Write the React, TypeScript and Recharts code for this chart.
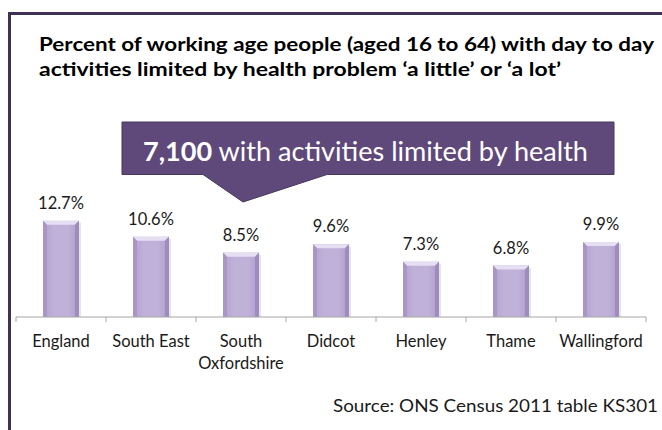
import React from 'react';
import { BarChart, Bar, XAxis, YAxis, LabelList } from 'recharts';

const areas = ['England', 'South East', 'South Oxfordshire', 'Didcot', 'Henley', 'Thame', 'Wallingford'];
const percentLimited = [12.7, 10.6, 8.5, 9.6, 7.3, 6.8, 9.9];

const titleLines = [
  'Percent of working age people (aged 16 to 64) with day to day',
  'activities limited by health problem \u2018a little\u2019 or \u2018a lot\u2019',
];
const calloutNumber = '7,100';
const calloutText = ' with activities limited by health';
const sourceText = 'Source: ONS Census 2011 table KS301';

const data = areas.map((name, i) => ({ name, value: percentLimited[i] }));

const WIDTH = 662;
const HEIGHT = 430;
const FONT = 'Lato, "Open Sans", sans-serif';

// bevelled lavender bar like the Office chart style
const BevelBar = (props: any) => {
  const { x, y, width, height } = props;
  if (!height || height <= 0) return null;
  const b = 4;
  return (
    <g>
      <rect x={x + 2} y={y + 2} width={width} height={height - 2} fill="#000" opacity={0.1} />
      <rect x={x} y={y} width={width} height={height} fill="url(#barGrad)" />
      <polygon
        points={`${x},${y} ${x + width},${y} ${x + width - b},${y + b} ${x + b},${y + b}`}
        fill="#e6def2"
      />
      <polygon
        points={`${x},${y} ${x + b},${y + b} ${x + b},${y + height} ${x},${y + height}`}
        fill="#a995c6"
      />
      <polygon
        points={`${x + width},${y} ${x + width - b},${y + b} ${x + width - b},${y + height} ${x + width},${y + height}`}
        fill="#a08bbe"
      />
    </g>
  );
};

const AreaTick = (props: any) => {
  const { x, y, payload, index } = props;
  const half = payload && payload.offset ? payload.offset : (WIDTH - 32) / areas.length / 2;
  const words = String(payload.value).split(' ');
  const lines = payload.value === 'South Oxfordshire' ? words : [payload.value];
  return (
    <g>
      <line x1={x - half} x2={x - half} y1={y} y2={y + 5} stroke="#a6a6a6" />
      {index === areas.length - 1 && (
        <line x1={x + half} x2={x + half} y1={y} y2={y + 5} stroke="#a6a6a6" />
      )}
      <text x={x} y={y + 30} textAnchor="middle" fontFamily={FONT} fontSize={16.5} fill="#1a1a1a">
        {lines.map((l: string, i: number) => (
          <tspan key={l} x={x} dy={i === 0 ? 0 : 22}>
            {l}
          </tspan>
        ))}
      </text>
    </g>
  );
};

export default function App() {
  return (
    <div style={{ position: 'absolute', left: 0, top: 0, width: WIDTH, height: HEIGHT, background: '#fff' }}>
      <BarChart
        width={WIDTH}
        height={HEIGHT}
        data={data}
        margin={{ top: 211, right: 16, left: 16, bottom: 53 }}
        barCategoryGap={0}
      >
        <defs>
          <linearGradient id="barGrad" x1="0" y1="0" x2="1" y2="0">
            <stop offset="0" stopColor="#b3a1ce" />
            <stop offset="0.3" stopColor="#c0b1d9" />
            <stop offset="0.7" stopColor="#c0b1d9" />
            <stop offset="1" stopColor="#ae9bca" />
          </linearGradient>
        </defs>
        <XAxis
          dataKey="name"
          interval={0}
          height={60}
          tickSize={0}
          tickMargin={0}
          tickLine={false}
          axisLine={{ stroke: '#a6a6a6' }}
          tick={<AreaTick />}
        />
        <YAxis hide domain={[0, 14]} />
        <Bar dataKey="value" barSize={36} shape={<BevelBar />} isAnimationActive={false}>
          <LabelList
            dataKey="value"
            position="top"
            offset={12}
            formatter={(v: any) => `${Number(v).toFixed(1)}%`}
            style={{ fontFamily: FONT, fontSize: 16.5, fill: '#1a1a1a' }}
          />
        </Bar>
      </BarChart>
      <svg
        width={WIDTH}
        height={HEIGHT}
        style={{ position: 'absolute', left: 0, top: 0, pointerEvents: 'none' }}
      >
        <path d="M9.5 430 V13.5 H662" fill="none" stroke="#403152" strokeWidth={3} />
        <text fontFamily={FONT} fontWeight={700} fontSize={19.5} fill="#000">
          <tspan x={39} y={51} textLength={615} lengthAdjust="spacingAndGlyphs">
            {titleLines[0]}
          </tspan>
          <tspan x={39} y={76} textLength={522} lengthAdjust="spacingAndGlyphs">
            {titleLines[1]}
          </tspan>
        </text>
        <path
          d="M122 122 H614 V174.5 H327 L243 202 L203 174.5 H122 Z"
          fill="#5f497a"
          stroke="#47385c"
          strokeWidth={1}
        />
        <text
          x={143}
          y={161}
          fontFamily={FONT}
          fontSize={26}
          fill="#fff"
          textLength={445}
          lengthAdjust="spacingAndGlyphs"
        >
          <tspan fontWeight={700}>{calloutNumber}</tspan>
          <tspan>{calloutText}</tspan>
        </text>
        <text
          x={658}
          y={412}
          textAnchor="end"
          fontFamily={FONT}
          fontSize={17}
          fill="#1a1a1a"
          textLength={325}
          lengthAdjust="spacingAndGlyphs"
        >
          {sourceText}
        </text>
      </svg>
    </div>
  );
}
